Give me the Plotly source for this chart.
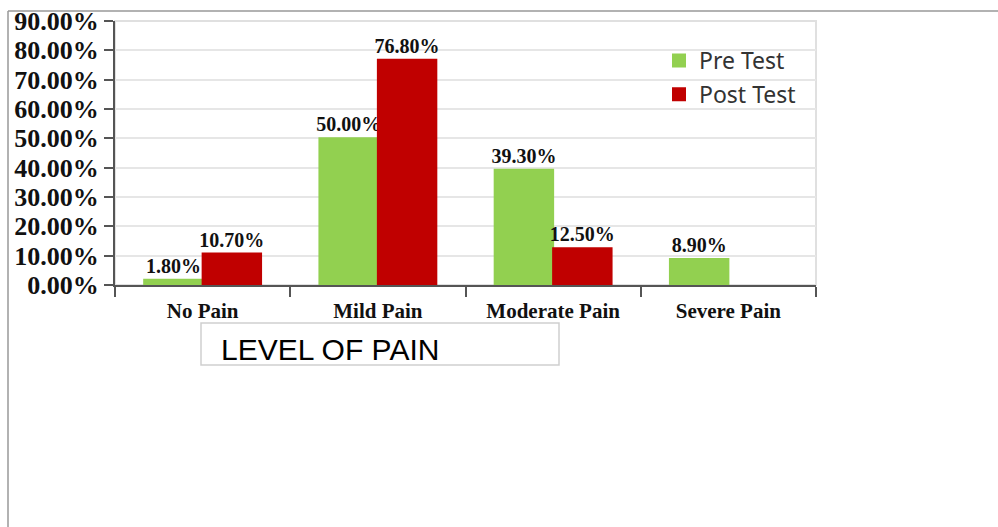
import plotly.graph_objects as go

categories = ["No Pain", "Mild Pain", "Moderate Pain", "Severe Pain"]
pre_test = [1.8, 50.0, 39.3, 8.9]
post_test = [10.7, 76.8, 12.5, None]
y_ticks = [0, 10, 20, 30, 40, 50, 60, 70, 80, 90]

GREEN = "#92D050"
RED = "#C00000"
serif = "Liberation Serif"

def labels(vals):
    return [f"{v:.2f}%" if v is not None else "" for v in vals]

label_font = dict(family=serif, size=20, color="#111", weight="bold")

fig = go.Figure()
fig.add_trace(go.Bar(
    name="Pre Test", x=categories, y=pre_test, marker=dict(color=GREEN, line=dict(color=GREEN, width=2)),
    text=labels(pre_test), textposition="outside", cliponaxis=False, constraintext="none",
    textfont=label_font, legendgroup="a"))
fig.add_trace(go.Bar(
    name="Post Test", x=categories, y=post_test, marker=dict(color=RED, line=dict(color=RED, width=2)),
    text=labels(post_test), textposition="outside", cliponaxis=False, constraintext="none",
    textfont=label_font, legendgroup="b"))

L, R, T, B = 115, 182, 21, 242
W, H = 998, 527
pw, ph = W - L - R, H - T - B

def px(x):
    return (x - L) / pw

def py(y):
    return (H - B - y) / ph

fig.update_layout(
    width=W, height=H,
    margin=dict(l=L, r=R, t=T, b=B, pad=0, autoexpand=False),
    paper_bgcolor="white", plot_bgcolor="white",
    barmode="group", bargap=0.333, bargroupgap=0,
    showlegend=True,
    legend=dict(x=px(659), y=py(39), xanchor="left", yanchor="top",
                font=dict(family="Noto Sans", size=23, color="#333"),
                bgcolor="rgba(0,0,0,0)", tracegroupgap=1, traceorder="grouped"),
    xaxis=dict(
        type="category", range=[-0.5, 3.5], tickson="boundaries",
        showline=True, linecolor="#555", linewidth=2,
        ticks="outside", ticklen=10, tickwidth=2, tickcolor="#555",
        ticklabelstandoff=6,
        tickfont=dict(family=serif, size=21, color="#111", weight="bold"),
        showgrid=False, zeroline=False, automargin=False,
    ),
    yaxis=dict(
        range=[0, 90], tickmode="array", tickvals=y_ticks,
        ticktext=[f"{v:.2f}%" for v in y_ticks],
        showline=True, linecolor="#555", linewidth=2,
        ticks="outside", ticklen=9, tickwidth=2, tickcolor="#555",
        tickfont=dict(family=serif, size=26, color="#111", weight="bold"),
        showgrid=True, gridcolor="#e6e6e6", gridwidth=2, zeroline=False, automargin=False,
    ),
    shapes=[
        dict(type="rect", xref="paper", yref="paper", x0=0, x1=px(816), y0=0, y1=1,
             line=dict(color="#e0e0e0", width=2), layer="below"),
        dict(type="line", xref="paper", yref="paper", x0=px(8), x1=px(998), y0=py(11), y1=py(11),
             line=dict(color="#999", width=1.5)),
        dict(type="line", xref="paper", yref="paper", x0=px(8), x1=px(8), y0=py(11), y1=py(527),
             line=dict(color="#999", width=1.5)),
        dict(type="rect", xref="paper", yref="paper", x0=px(201), x1=px(559), y0=py(323), y1=py(365),
             line=dict(color="#cfcfcf", width=1.5)),
    ],
    annotations=[
        dict(text="LEVEL OF PAIN", xref="paper", yref="paper", x=px(219), y=py(349),
             xanchor="left", yanchor="middle", showarrow=False,
             font=dict(family="Liberation Sans", size=30, color="#000")),
    ],
)

fig.write_html("out.html")
